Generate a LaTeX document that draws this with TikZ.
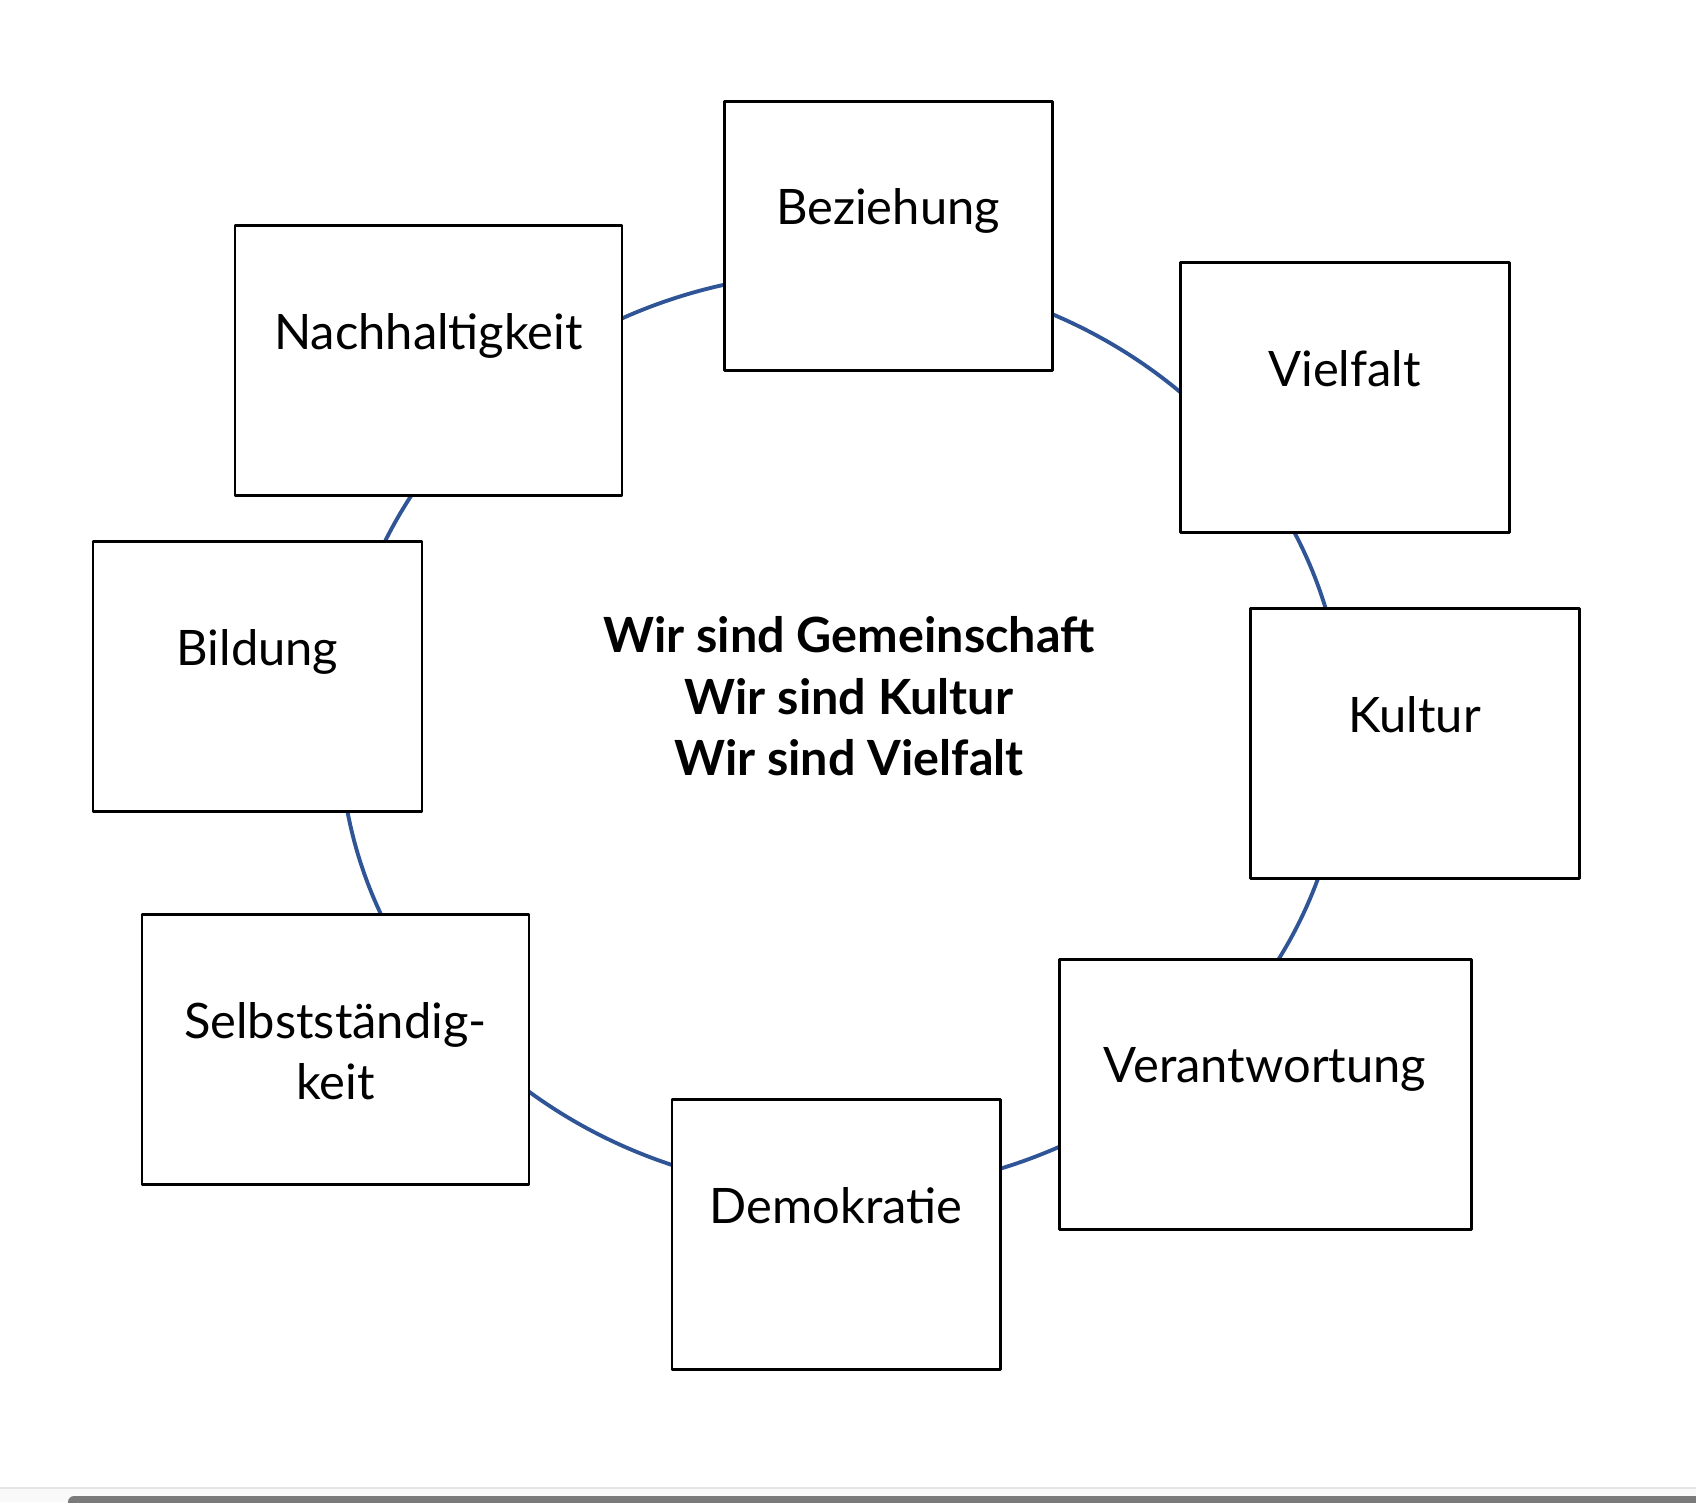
\documentclass[tikz,border=0pt]{standalone}
\usepackage{fontspec}
\setmainfont{Lato}
\definecolor{kreisblau}{HTML}{2F5597}
\tikzset{
	box/.style={draw=black, line width=0.85pt, fill=white, rectangle, minimum height=2.69cm, inner sep=0pt},
	lbl/.style={inner sep=0pt, align=center, anchor=north, font=\fontsize{13.9}{17.3}\selectfont},
	mitte/.style={inner sep=0pt, align=center, anchor=north, font=\fontsize{13.8}{17.5}\selectfont\bfseries}
}
\begin{document}
\begin{tikzpicture}[x=0.01cm, y=-0.01cm, line join=round]
	\useasboundingbox (0,0) rectangle (1696,1502);
	% Fensterleiste unten
	\fill[gray!5] (0,1488) rectangle (1696,1502);
	\draw[gray!20, line width=0.4pt] (0,1488) -- (1696,1488);
	\fill[black!52, rounded corners=0.06cm] (68,1496) rectangle (1710,1510);
	% Kreis
	\coordinate (M) at (842,732);
	\draw[kreisblau, line width=1.1pt] (M) ellipse [x radius=502, y radius=460];
	% Kästen
	\foreach \nm/\cx/\cy/\w/\txt in {
		bez/888/236/328/Beziehung,
		viel/1344.5/397.5/329/Vielfalt,
		kult/1414.5/743.5/329/Kultur,
		vera/1265/1094.5/412/Verantwortung,
		demo/836/1234.5/328/Demokratie,
		selb/335.5/1049.5/387/{Selbstständig-\\keit},
		bild/257.5/676.5/329/Bildung,
		nach/428.5/360.5/387/Nachhaltigkeit}
	{
		\node[box, minimum width=\w*0.01cm] (\nm) at (\cx,\cy) {};
		\node[lbl] (\nm-t) at ([yshift=-0.88cm]\nm.north) {\txt};
	}
	\node[mitte] (wir) at (849,616) {Wir sind Gemeinschaft\\Wir sind Kultur\\Wir sind Vielfalt};
\end{tikzpicture}
\end{document}
